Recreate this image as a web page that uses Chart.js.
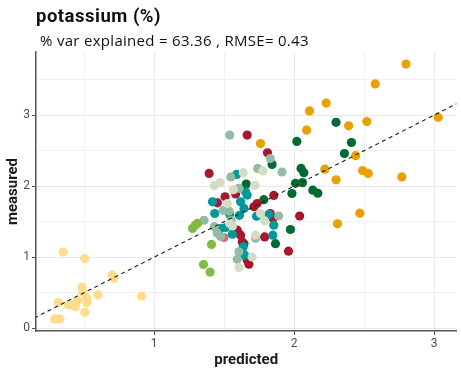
<!DOCTYPE html>
<html>
<head>
<meta charset="utf-8">
<script src="https://cdn.jsdelivr.net/npm/chart.js@4"></script>
<style>
  html, body { margin: 0; padding: 0; background: #ffffff; }
  canvas { display: block; }
</style>
</head>
<body>
<canvas id="chart" width="461" height="374"></canvas>
<script>
// Text
const titleText = 'potassium (%)';
const subtitleText = '% var explained = 63.36 , RMSE= 0.43';
const xTitle = 'predicted';
const yTitle = 'measured';

// Axis ranges and 1:1 reference line
const xRange = [0.156, 3.16];
const yRange = [-0.04, 3.89];
const oneToOne = [0.0, 3.3];

// [predicted, measured] pairs, one array per group
const groupYellow = [
  [0.35, 1.07], [0.505, 0.98], [0.70, 0.75], [0.71, 0.70], [0.485, 0.58], [0.49, 0.51],
  [0.60, 0.47], [0.91, 0.45], [0.517, 0.43], [0.453, 0.39], [0.52, 0.36], [0.315, 0.36],
  [0.386, 0.33], [0.42, 0.32], [0.436, 0.30], [0.505, 0.225], [0.29, 0.13], [0.327, 0.13]
];
const groupLightGreen = [
  [1.274, 1.404], [1.294, 1.45], [1.31, 1.475], [1.41, 1.18], [1.353, 0.897], [1.40, 0.79]
];
const groupOrange = [
  [2.80, 3.72], [2.58, 3.44], [2.23, 3.17], [2.11, 3.06], [2.52, 2.91], [2.39, 2.85],
  [2.09, 2.79], [3.03, 2.97], [2.44, 2.43], [2.22, 2.24], [2.49, 2.22], [2.53, 2.18],
  [2.30, 2.09], [2.77, 2.13], [2.47, 1.62], [2.31, 1.47], [1.76, 2.60]
];
const groupSage = [
  [1.777, 2.215], [1.637, 2.19], [1.47, 2.05], [1.43, 2.01], [1.72, 2.01], [1.566, 1.95],
  [1.523, 1.756], [1.76, 1.615], [1.79, 1.51], [1.725, 1.31], [1.70, 1.004], [1.606, 0.855],
  [1.54, 1.475], [1.56, 1.44]
];
const groupGreyGreen = [
  [1.54, 2.72], [1.83, 2.39], [1.74, 2.25], [1.914, 2.20], [1.548, 2.13], [1.606, 1.97],
  [1.495, 1.66], [1.535, 1.65], [1.357, 1.52], [1.43, 1.43], [1.45, 1.34], [1.476, 1.29],
  [1.725, 1.265], [1.89, 1.58], [1.606, 1.075], [1.594, 0.97], [1.55, 1.52]
];
const groupTeal = [
  [1.59, 2.165], [1.653, 1.92], [1.665, 1.875], [1.417, 1.78], [1.618, 1.78], [1.433, 1.615],
  [1.54, 1.605], [1.642, 1.686], [1.732, 1.577], [1.855, 1.45], [1.848, 1.31], [1.476, 1.404],
  [1.512, 1.418], [1.559, 1.324], [1.637, 1.145], [1.647, 1.028], [1.82, 1.60], [1.61, 1.59]
];
const groupRed = [
  [1.665, 2.72], [1.81, 2.47], [1.393, 2.18], [1.507, 1.85], [1.583, 1.89], [1.855, 1.87],
  [1.452, 1.765], [1.736, 1.756], [1.713, 1.71], [1.83, 1.615], [1.85, 1.545], [2.04, 1.58],
  [1.594, 1.38], [1.618, 1.31], [1.63, 1.215], [1.79, 1.285], [1.96, 1.085], [1.665, 0.96],
  [1.677, 0.90]
];
const groupDarkGreen = [
  [2.02, 2.63], [2.30, 2.90], [2.41, 2.615], [2.36, 2.46], [1.843, 2.306], [2.05, 2.25],
  [2.07, 2.19], [2.01, 2.04], [2.06, 2.05], [1.985, 1.897], [2.134, 1.944], [2.17, 1.90],
  [1.658, 2.03], [1.784, 1.81], [1.974, 1.39], [1.867, 1.19], [1.642, 1.19]
];
const groupPink = [
  [1.50, 1.277]
];

const toPoints = arr => arr.map(([x, y]) => ({ x, y }));

const groups = [
  { label: 'yellow', data: groupYellow, color: '#FDDD8C' },
  { label: 'light green', data: groupLightGreen, color: '#80BB44' },
  { label: 'sage', data: groupSage, color: '#D4DCC6' },
  { label: 'grey green', data: groupGreyGreen, color: '#94BBA5' },
  { label: 'teal', data: groupTeal, color: '#00999B' },
  { label: 'red', data: groupRed, color: '#A7172F' },
  { label: 'pink', data: groupPink, color: '#DB6683' },
  { label: 'dark green', data: groupDarkGreen, color: '#006A33' },
  { label: 'orange', data: groupOrange, color: '#EAA000' }
];

const datasets = groups.map((g, i) => ({
  label: g.label,
  data: toPoints(g.data),
  backgroundColor: g.color,
  borderWidth: 0,
  pointRadius: 4.6,
  pointHoverRadius: 4.6,
  order: 1 + i
}));

datasets.push({
  label: '1:1',
  data: oneToOne.map(v => ({ x: v, y: v })),
  showLine: true,
  borderColor: '#1a1a1a',
  borderWidth: 1.1,
  borderDash: [4, 3.5],
  pointRadius: 0,
  order: 0
});

// Title and subtitle, left aligned above the panel
const headerPlugin = {
  id: 'header',
  afterDraw(chart) {
    const ctx = chart.ctx;
    ctx.save();
    ctx.fillStyle = '#111111';
    ctx.textAlign = 'left';
    ctx.textBaseline = 'alphabetic';
    ctx.letterSpacing = '0.5px';
    ctx.font = 'bold 18.5px Roboto, "DejaVu Sans", sans-serif';
    ctx.fillText(titleText, 36, 22);
    ctx.letterSpacing = '0.3px';
    ctx.font = '500 15px "Open Sans", Roboto, sans-serif';
    ctx.fillText(subtitleText, 40, 46);
    ctx.restore();
  }
};

const isMajor = v => Math.abs(v - Math.round(v)) < 1e-9;

const axisCommon = {
  type: 'linear',
  ticks: {
    stepSize: 0.5,
    includeBounds: false,
    autoSkip: false,
    maxRotation: 0,
    color: '#4d4d4d',
    font: { family: 'Roboto, "DejaVu Sans", sans-serif', size: 12 },
    padding: 2,
    callback: v => (isMajor(v) ? String(Math.round(v)) : '')
  },
  grid: {
    color: ctx => (ctx.tick && isMajor(ctx.tick.value) ? '#e9e9e9' : '#f0f0f0'),
    lineWidth: 1,
    tickLength: 4,
    tickWidth: 1,
    tickColor: ctx => (ctx.tick && isMajor(ctx.tick.value) ? '#4d4d4d' : 'rgba(0,0,0,0)')
  },
  border: { display: true, color: '#555555', width: 1.5 },
  title: {
    display: true,
    color: '#1a1a1a',
    font: { family: 'Roboto, "DejaVu Sans", sans-serif', size: 15, weight: 'bold' }
  }
};

new Chart(document.getElementById('chart'), {
  type: 'scatter',
  data: { datasets },
  options: {
    responsive: false,
    animation: false,
    layout: { padding: { top: 52, right: 3, left: 0, bottom: 0 } },
    plugins: {
      legend: { display: false },
      tooltip: { enabled: false }
    },
    scales: {
      x: {
        ...axisCommon,
        min: xRange[0],
        max: xRange[1],
        title: { ...axisCommon.title, text: xTitle, padding: { top: 0, bottom: 5 } },
        afterFit: s => { s.height = 43; }
      },
      y: {
        ...axisCommon,
        min: yRange[0],
        max: yRange[1],
        title: { ...axisCommon.title, text: yTitle, padding: { top: 4, bottom: 0 } },
        afterFit: s => { s.width = 36; }
      }
    }
  },
  plugins: [headerPlugin]
});
</script>
</body>
</html>
